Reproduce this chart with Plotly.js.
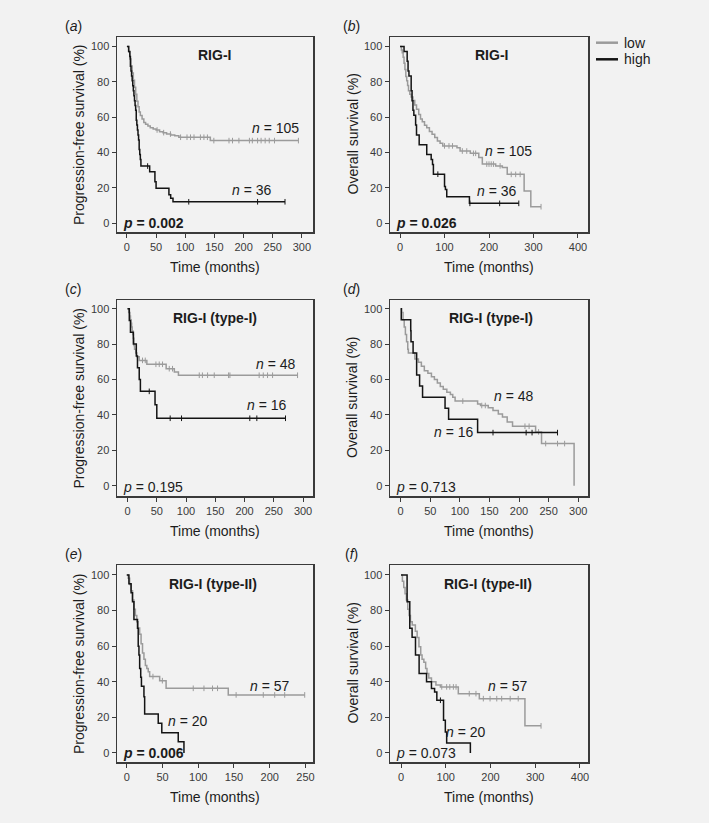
<!DOCTYPE html>
<html><head><meta charset="utf-8">
<script src="https://cdn.plot.ly/plotly-3.0.1.min.js"></script>
<style>html,body{margin:0;padding:0;background:#f2f2f2;}#chart{width:709px;height:823px;}</style>
</head><body><div id="chart"></div>
<script>
// ---------- DATA ----------
// Panel (a) RIG-I, progression-free survival
const aLowTime = [0, 3, 5, 7, 9, 11, 13, 15, 17, 19, 21, 23, 26, 29, 32, 36, 40, 45, 50, 56, 62, 68, 75, 82, 89, 143];
const aLowSurv = [100, 97, 93, 89, 85, 81, 77, 73, 69, 66, 63, 61, 59, 57, 56, 55, 54.1, 53.3, 52.8, 51.8, 51.3, 50.5, 50, 49.5, 48.7, 46.8];
const aLowCensor = [51.7, 63, 74.6, 92, 103, 109, 115, 126, 132, 138, 149, 175, 181, 192, 210, 215, 224, 230, 237, 244, 253, 294];
const aLowEnd = 294;
const aHighTime = [0, 3, 5, 6, 7, 8, 9, 10, 11, 12, 13, 14, 15, 16, 17, 18, 19, 20, 21, 22, 23, 24, 39, 48, 50, 72, 75, 79];
const aHighSurv = [100, 97.2, 94.4, 88.9, 86.1, 83.3, 80.6, 77.8, 75, 72.2, 69.4, 66.7, 63.9, 58.3, 55.6, 52.8, 50, 47.2, 41.7, 38.9, 36.1, 32.4, 29.2, 23.5, 19.8, 16.2, 14.2, 12.2];
const aHighCensor = [35.5, 106, 224, 271];
const aHighEnd = 271;

// Panel (b) RIG-I, overall survival
const bLowTime = [0, 3, 5, 7, 9, 11, 13, 15, 17, 19, 22, 25, 29, 33, 37, 42, 46, 50, 55, 60, 66, 72, 78, 84, 90, 96, 128, 135, 158, 177, 185, 215, 230, 241, 279, 294];
const bLowSurv = [100, 98, 96.5, 94, 90.5, 87, 83, 80.6, 78, 75, 73, 71.5, 69.5, 67, 64.6, 61.5, 59, 57.5, 55.5, 54, 52, 50.4, 48.5, 46.6, 45.3, 43.8, 42.8, 40.9, 39.6, 37.2, 33.5, 32.5, 31.6, 27.7, 18.3, 9.4];
const bLowCensor = [100, 110, 118, 140, 150, 165, 170, 195, 200, 205, 210, 225, 250, 260, 270, 317];
const bLowEnd = 317;
const bHighTime = [0, 9, 16, 18, 20, 25, 27, 29, 31, 35, 37, 43, 60, 70, 73, 75, 100, 102, 105, 156];
const bHighSurv = [100, 97.2, 91.7, 86.1, 83.3, 75, 69.4, 63.9, 61.1, 55.6, 50, 44.4, 38.9, 36.1, 33.3, 27.8, 20.8, 19.2, 15.1, 11.3];
const bHighCensor = [85, 157, 224, 267];
const bHighEnd = 267;

// Panel (c) RIG-I (type-I), progression-free survival
const cLowTime = [0, 2, 4, 5, 6, 7, 8, 9, 10, 11, 12, 14, 16, 20, 33, 66, 80, 87];
const cLowSurv = [100, 97.9, 95.8, 93.8, 91.7, 89.6, 87.5, 85.4, 83.3, 79.2, 77.1, 75, 72.9, 70.8, 68.6, 66.1, 64.3, 62.4];
const cLowCensor = [25.6, 30.3, 48.5, 54.2, 59.8, 71.3, 76.9, 122.6, 128, 136.8, 148.2, 172.7, 175, 225, 232, 239.3, 247.9, 290.6];
const cLowEnd = 290.6;
const cHighTime = [0, 3, 5, 10, 15, 17, 20, 22, 47, 50];
const cHighSurv = [100, 93.3, 86.7, 80, 73.3, 66.7, 60, 53.3, 45.7, 38.1];
const cHighCensor = [37.1, 72.9, 92.3, 209, 221, 270];
const cHighEnd = 270;

// Panel (d) RIG-I (type-I), overall survival
const dLowTime = [0, 2, 4, 6, 8, 10, 12, 13, 24, 30, 35, 40, 46, 52, 57, 62, 67, 72, 78, 84, 88, 92, 130, 135, 148, 156, 165, 172, 180, 189, 228, 238, 293];
const dLowSurv = [100, 97.9, 93.8, 89.6, 85.4, 81.3, 77.1, 75, 71.6, 69.7, 67.5, 65, 63.5, 61.5, 60, 58, 56, 54.5, 52.8, 51.5, 50, 47.8, 46.2, 45.3, 44, 42.5, 40.5, 38.8, 36, 33.6, 30.4, 23.8, 0];
const dLowCensor = [105, 137, 143, 210, 217, 233, 245, 265, 277];
const dLowEnd = 293;
const dHighTime = [0, 1, 17, 17.5, 21, 27, 32, 37, 75, 81, 130];
const dHighSurv = [100, 93.8, 87.5, 81.3, 75, 62.5, 56.3, 50, 43.8, 37.5, 30];
const dHighCensor = [156, 212, 222, 265];
const dHighEnd = 265;

// Panel (e) RIG-I (type-II), progression-free survival
const eLowTime = [0, 2, 4, 6, 8, 10, 12, 14, 16, 18, 20, 22, 24, 26, 28, 30, 32, 46, 55, 142];
const eLowSurv = [100, 98.2, 94.7, 91.2, 86, 80.7, 77.2, 73.7, 70.2, 66.7, 61.4, 56.1, 52.6, 49.1, 47.4, 45.6, 42.9, 40.6, 36.3, 32.6];
const eLowCensor = [36.6, 49.8, 93, 108, 120, 127, 153, 191, 207, 221, 249];
const eLowEnd = 249;
const eHighTime = [0, 3, 6, 8, 10, 15, 16, 17, 18, 19.5, 20.5, 24, 25, 44, 49, 72, 80];
const eHighSurv = [100, 95, 90, 85, 75, 70, 60, 55, 47.5, 42.5, 37.5, 31.6, 21.9, 16.7, 11.4, 6.3, 0];
const eHighCensor = [];
const eHighEnd = 80;

// Panel (f) RIG-I (type-II), overall survival
const fLowTime = [0, 3, 6, 9, 12, 15, 18, 21, 25, 32, 36, 40, 44, 47, 51, 55, 58, 62, 68, 78, 88, 128, 175, 277];
const fLowSurv = [100, 96.5, 93, 89.5, 86, 80.7, 77.2, 73.7, 71.9, 68.4, 64.9, 59.6, 55, 52.6, 50.9, 47.4, 44.7, 42.1, 40, 38.1, 37.1, 33.3, 30.5, 15.2];
const fLowCensor = [91, 102, 109, 117, 123, 152.5, 167.5, 184, 199, 214, 225, 244, 262, 313];
const fLowEnd = 313;
const fHighTime = [0, 13.5, 19.5, 24.7, 32.3, 40.4, 57, 68, 75, 80, 95, 99, 102, 155];
const fHighSurv = [100, 85, 70, 65, 55, 44.7, 40, 36.2, 34.3, 29.6, 18.4, 11.8, 5.6, 0];
const fHighCensor = [88];
const fHighEnd = 155;

// Tick labels
const yTicks = [0, 20, 40, 60, 80, 100];
const xTicks300 = [0, 50, 100, 150, 200, 250, 300];
const xTicks400 = [0, 100, 200, 300, 400];
const xTicks250 = [0, 50, 100, 150, 200, 250];

// Labels
const panelLetters = ['a', 'b', 'c', 'd', 'e', 'f'];
const panelTitles = ['RIG-I', 'RIG-I', 'RIG-I (type-I)', 'RIG-I (type-I)', 'RIG-I (type-II)', 'RIG-I (type-II)'];
const pValues = ['0.002', '0.026', '0.195', '0.713', '0.006', '0.073'];
const pBold = [true, true, false, false, true, false];
const nLow = [105, 105, 48, 48, 57, 57];
const nHigh = [36, 36, 16, 16, 20, 20];
const yTitles = ['Progression-free survival (%)', 'Overall survival (%)', 'Progression-free survival (%)', 'Overall survival (%)', 'Progression-free survival (%)', 'Overall survival (%)'];
const xTitle = 'Time (months)';
const seriesNames = ['low', 'high'];

// ---------- STYLE / LAYOUT ----------
const W = 709, H = 823;
const PX = x => x / W, PY = y => 1 - y / H;
const LOW_COLOR = '#9b9b9b', HIGH_COLOR = '#141414';
const FONT = 'Liberation Sans, Arial, Helvetica, sans-serif';
const TXT = '#1c1c1c';

const panels = [
  {low:[aLowTime,aLowSurv,aLowEnd,aLowCensor], high:[aHighTime,aHighSurv,aHighEnd,aHighCensor], col:0,row:0, xr:[-17,319], xt:xTicks300,
   nLowPos:[275,128], nHighPos:[252,190], titlePos:[215,55]},
  {low:[bLowTime,bLowSurv,bLowEnd,bLowCensor], high:[bHighTime,bHighSurv,bHighEnd,bHighCensor], col:1,row:0, xr:[-22.6,422.6], xt:xTicks400,
   nLowPos:[508,151], nHighPos:[497,191], titlePos:[491,55]},
  {low:[cLowTime,cLowSurv,cLowEnd,cLowCensor], high:[cHighTime,cHighSurv,cHighEnd,cHighCensor], col:0,row:1, xr:[-18,317], xt:xTicks300,
   nLowPos:[276,364], nHighPos:[267,405], titlePos:[215,318]},
  {low:[dLowTime,dLowSurv,dLowEnd,dLowCensor], high:[dHighTime,dHighSurv,dHighEnd,dHighCensor], col:1,row:1, xr:[-18,316.5], xt:xTicks300,
   nLowPos:[514,396], nHighPos:[454,432], titlePos:[491,318]},
  {low:[eLowTime,eLowSurv,eLowEnd,eLowCensor], high:[eHighTime,eHighSurv,eHighEnd,eHighCensor], col:0,row:2, xr:[-13.7,260.6], xt:xTicks250,
   nLowPos:[270,686], nHighPos:[188,721], titlePos:[213,584]},
  {low:[fLowTime,fLowSurv,fLowEnd,fLowCensor], high:[fHighTime,fHighSurv,fHighEnd,fHighCensor], col:1,row:2, xr:[-24.7,418], xt:xTicks400,
   nLowPos:[508,686], nHighPos:[466,732], titlePos:[488,584]}
];
const colPx = [[117, 313], [390, 588]];
const rowPx = [[37, 232], [300, 496], [565, 762]];
const rowYRange = [[-4.9, 105.4], [-5.8, 104.9], [-5.1, 105.6]];

const traces = [];
function stepLookup(times, surv, t) {
  let v = surv[0];
  for (let i = 0; i < times.length; i++) if (times[i] <= t) v = surv[i];
  return v;
}
function addCurve(spec, color, xa, ya) {
  const [times, surv, end, censor] = spec;
  const x = times.slice(), y = surv.slice();
  if (end > x[x.length - 1]) { x.push(end); y.push(y[y.length - 1]); }
  traces.push({type:'scatter', mode:'lines', x, y, xaxis:xa, yaxis:ya,
    line:{shape:'hv', color, width:1.5}, hoverinfo:'skip', showlegend:false});
  if (censor.length) {
    traces.push({type:'scatter', mode:'markers', x:censor, y:censor.map(t => stepLookup(times, surv, t)),
      xaxis:xa, yaxis:ya, marker:{symbol:'line-ns', size:4, color, line:{color, width:1}},
      hoverinfo:'skip', showlegend:false});
  }
}

const layout = {
  width: W, height: H,
  margin: {l:0, r:0, t:0, b:0},
  paper_bgcolor: '#f2f2f2', plot_bgcolor: '#f2f2f2',
  showlegend: false,
  font: {family: FONT, color: TXT},
  annotations: [], shapes: []
};
const axisCommon = {
  showline:true, mirror:true, linecolor:'#3a3a3a', linewidth:1.5,
  ticks:'outside', ticklen:4, tickwidth:1, tickcolor:'#3a3a3a',
  showgrid:false, zeroline:false, fixedrange:true,
  tickfont:{family:FONT, size:11, color:'#3a3a3a'}
};
function ann(text, x, y, opts) {
  layout.annotations.push(Object.assign({text, x:PX(x), y:PY(y), xref:'paper', yref:'paper',
    xanchor:'center', yanchor:'middle', showarrow:false,
    font:{family:FONT, size:14, color:TXT}}, opts || {}));
}

panels.forEach((p, i) => {
  const k = i === 0 ? '' : String(i + 1);
  const xa = 'x' + k, ya = 'y' + k;
  const [x0, x1] = colPx[p.col], [y0, y1] = rowPx[p.row];
  layout['xaxis' + k] = Object.assign({}, axisCommon, {domain:[PX(x0), PX(x1)], range:p.xr, anchor:ya,
    tickmode:'array', tickvals:p.xt, ticktext:p.xt.map(String)});
  layout['yaxis' + k] = Object.assign({}, axisCommon, {domain:[PY(y1), PY(y0)], range:rowYRange[p.row], anchor:xa,
    tickmode:'array', tickvals:yTicks, ticktext:yTicks.map(String)});
  addCurve(p.low, LOW_COLOR, xa, ya);
  addCurve(p.high, HIGH_COLOR, xa, ya);

  const cx = (x0 + x1) / 2;
  ann('(<i>' + panelLetters[i] + '</i>)', p.col === 0 ? 73 : 351.5, y0 - 11.5);
  ann('<b>' + panelTitles[i] + '</b>', p.titlePos[0], p.titlePos[1]);
  ann('<i>n</i> = ' + nLow[i], p.nLowPos[0], p.nLowPos[1]);
  ann('<i>n</i> = ' + nHigh[i], p.nHighPos[0], p.nHighPos[1]);
  const pTxt = '<i>p</i> = ' + pValues[i];
  ann(pBold[i] ? '<b>' + pTxt + '</b>' : pTxt, x0 + 4, y1 - 9.5, {xanchor:'left'});
  ann(yTitles[i], p.col === 0 ? 78.5 : 352, (y0 + y1) / 2, {textangle:-90});
  ann(xTitle, cx, y1 + 35);
});

// legend (top right)
[[seriesNames[0], LOW_COLOR, 42.7], [seriesNames[1], HIGH_COLOR, 59.3]].forEach(([name, col, y]) => {
  layout.shapes.push({type:'line', xref:'paper', yref:'paper', x0:PX(596), x1:PX(618), y0:PY(y), y1:PY(y),
    line:{color:col, width:2.5}});
  ann(name, 622, y, {xanchor:'left'});
});

Plotly.newPlot('chart', traces, layout, {staticPlot:true, displayModeBar:false});
</script></body></html>
